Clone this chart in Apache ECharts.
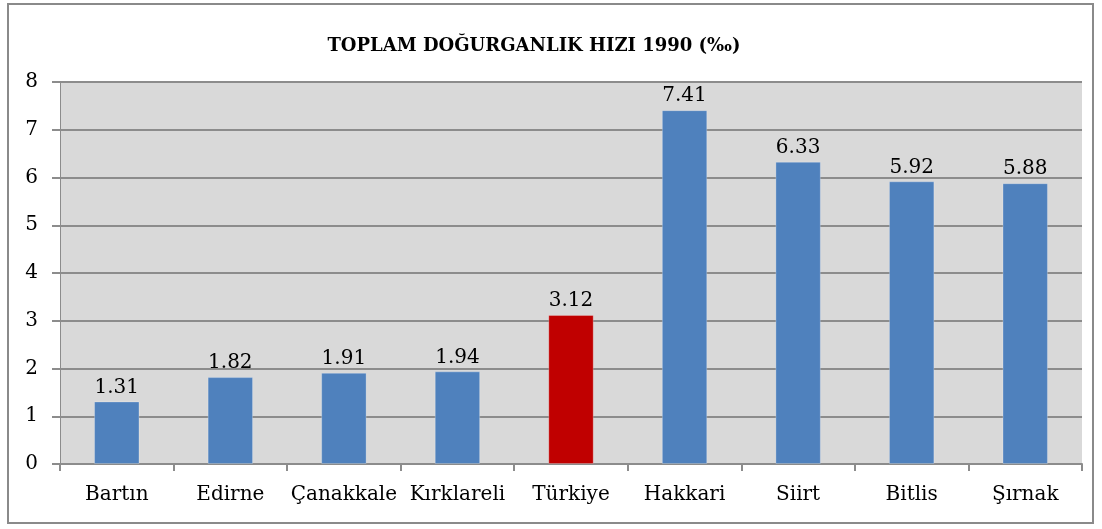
<!DOCTYPE html>
<html>
<head>
<meta charset="utf-8">
<script src="https://cdn.jsdelivr.net/npm/echarts@6/dist/echarts.min.js"></script>
<style>
  html, body { margin: 0; padding: 0; background: #fff; }
  #frame { position: absolute; left: 7px; top: 3px; width: 1087px; height: 521px; border: 2px solid #8a8a8a; box-sizing: border-box; }
  #chart { position: absolute; left: 0; top: 0; width: 1102px; height: 529px; }
</style>
</head>
<body>
<div id="frame"></div>
<div id="chart"></div>
<script>
// veriler
const provinces = ['Bartın', 'Edirne', 'Çanakkale', 'Kırklareli', 'Türkiye', 'Hakkari', 'Siirt', 'Bitlis', 'Şırnak'];
const fertility = [1.31, 1.82, 1.91, 1.94, 3.12, 7.41, 6.33, 5.92, 5.88];
const highlight = 'Türkiye';

const serif = '"DejaVu Serif", "Liberation Serif", serif';

let chart = echarts.init(document.getElementById('chart'));

let option = {
  animation: false,
  title: {
    text: 'TOPLAM DOĞURGANLIK HIZI 1990 (‰)',
    left: 529,
    top: 32,
    textAlign: 'center',
    textStyle: { fontFamily: serif, fontSize: 18, fontWeight: 'bold', color: '#000' }
  },
  grid: {
    left: 60, right: 20, top: 82, bottom: 65,
    show: true, backgroundColor: '#d9d9d9', borderWidth: 0
  },
  xAxis: {
    type: 'category',
    data: provinces,
    axisLine: { lineStyle: { color: '#8c8c8c', width: 2 } },
    axisTick: { show: true, interval: 0, length: 7, lineStyle: { color: '#8c8c8c', width: 2 } },
    axisLabel: { interval: 0, hideOverlap: false, fontFamily: serif, fontSize: 20, color: '#000', margin: 21 }
  },
  yAxis: {
    type: 'value',
    min: 0, max: 8, interval: 1,
    axisLine: { show: true, lineStyle: { color: '#8c8c8c', width: 1 } },
    axisTick: { show: true, length: 8, lineStyle: { color: '#8c8c8c', width: 2 } },
    splitLine: { lineStyle: { color: '#8c8c8c', width: 2 } },
    axisLabel: { fontFamily: serif, fontSize: 20, color: '#000', margin: 22 }
  },
  series: [{
    type: 'bar',
    barWidth: '40%',
    data: fertility.map((v, i) => ({
      value: v,
      itemStyle: { color: provinces[i] === highlight ? '#c00000' : '#4f81bd' }
    })),
    itemStyle: { borderColor: 'rgba(255,255,255,0.25)', borderWidth: 1 },
    label: {
      show: true, position: 'top', distance: 4,
      fontFamily: serif, fontSize: 20, color: '#000',
      formatter: p => p.value.toFixed(2)
    }
  }]
};

chart.setOption(option);
window.addEventListener('resize', () => chart.resize());
</script>
</body>
</html>
